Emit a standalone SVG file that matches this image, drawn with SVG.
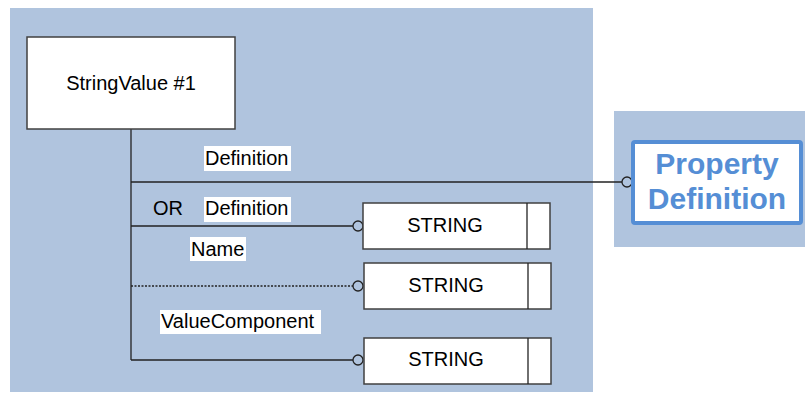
<svg xmlns="http://www.w3.org/2000/svg" width="805" height="394" viewBox="0 0 805 394">
<style>
.t{font-family:"Liberation Sans",Arial,sans-serif;font-size:20px;fill:#000}
.box{fill:#fff;stroke:#404040;stroke-width:1.5}
.lbl{fill:#fff}
.ln{stroke:#222;stroke-width:1.3;fill:none}
.c{fill:none;stroke:#222;stroke-width:1.3}
.pd{font-family:"Liberation Sans",Arial,sans-serif;font-size:30px;font-weight:bold;fill:#558ed5}
</style>
<rect x="10" y="8" width="583" height="384" fill="#b0c4de"/>
<rect x="614" y="111" width="191" height="136" fill="#b0c4de"/>
<g id="connectors">
<line class="ln" x1="131" y1="129" x2="131" y2="360"/>
<line class="ln" x1="131" y1="182" x2="622" y2="182"/>
<circle class="c" cx="627" cy="182" r="5"/>
<line class="ln" x1="131" y1="226" x2="353" y2="226"/>
<circle class="c" cx="358" cy="226" r="5"/>
<line class="ln" x1="131" y1="286" x2="353" y2="286" stroke-dasharray="2,1.5"/>
<circle class="c" cx="358" cy="286" r="5"/>
<line class="ln" x1="131" y1="360" x2="353" y2="360"/>
<circle class="c" cx="358" cy="360" r="5"/>
<rect class="lbl" x="204" y="146" width="87" height="25"/>
<text class="t" x="205" y="165">Definition</text>
<text class="t" x="153" y="215">OR</text>
<rect class="lbl" x="204" y="197" width="87" height="25"/>
<text class="t" x="205" y="215">Definition</text>
<rect class="lbl" x="190" y="237" width="56" height="24"/>
<text class="t" x="191" y="256">Name</text>
<rect class="lbl" x="160" y="310" width="161" height="24"/>
<text class="t" x="161" y="328">ValueComponent</text>
</g>
<g id="stringvalue">
<rect class="box" x="27" y="37" width="208" height="92"/>
<text class="t" x="131" y="90" text-anchor="middle">StringValue #1</text>
</g>
<g id="string1">
<rect class="box" x="363" y="203" width="187" height="46"/>
<line class="ln" x1="527" y1="203" x2="527" y2="249"/>
<text class="t" x="445" y="232" text-anchor="middle">STRING</text>
</g>
<g id="string2">
<rect class="box" x="364" y="263" width="187" height="46"/>
<line class="ln" x1="528" y1="263" x2="528" y2="309"/>
<text class="t" x="446" y="292" text-anchor="middle">STRING</text>
</g>
<g id="string3">
<rect class="box" x="364" y="338" width="187" height="46"/>
<line class="ln" x1="528" y1="338" x2="528" y2="384"/>
<text class="t" x="446" y="366" text-anchor="middle">STRING</text>
</g>
<g id="propertydefinition">
<rect x="633" y="142" width="168" height="81" rx="2" fill="#fff" stroke="#558ed5" stroke-width="4"/>
<text class="pd" x="717" y="174" text-anchor="middle">Property</text>
<text class="pd" x="717" y="209" text-anchor="middle">Definition</text>
</g>
</svg>
